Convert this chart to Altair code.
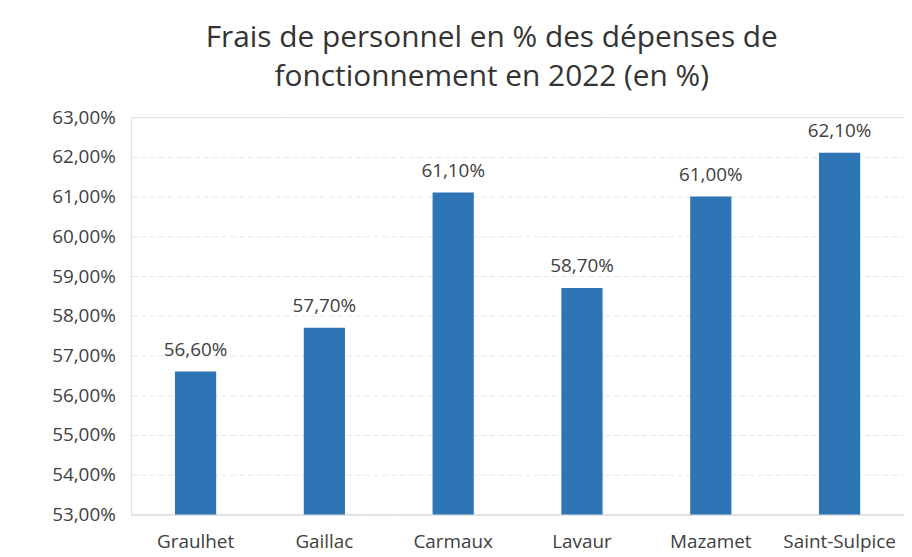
import altair as alt
import pandas as pd

communes = ["Graulhet", "Gaillac", "Carmaux", "Lavaur", "Mazamet", "Saint-Sulpice"]
valeurs = [56.6, 57.7, 61.1, 58.7, 61.0, 62.1]

df = pd.DataFrame({"commune": communes, "valeur": valeurs})
df["label"] = [f"{v:.2f}".replace(".", ",") + "%" for v in valeurs]

FONT = "Open Sans"

base = alt.Chart(df).encode(
    x=alt.X("commune:N", sort=communes, title=None,
            scale=alt.Scale(paddingInner=0.68, paddingOuter=0.34),
            axis=alt.Axis(labelAngle=0, labelFontSize=19, labelColor="#404040",
                          labelFont=FONT, ticks=False, domain=True,
                          domainColor="#d9d9d9", labelPadding=18)),
    y=alt.Y("valeur:Q", title=None,
            scale=alt.Scale(domain=[53, 63], nice=False, zero=False, clamp=True),
            axis=alt.Axis(values=list(range(53, 64)), labelFontSize=19,
                          labelColor="#404040", labelFont=FONT,
                          labelExpr="replace(format(datum.value, '.2f'), '.', ',') + '%'",
                          ticks=False, domain=False, gridColor="#e6e6e6",
                          gridDash=[6, 3], labelPadding=16)),
)

bars = base.mark_bar(color="#2e75b6")
text = base.mark_text(dy=-22, fontSize=19, font=FONT, color="#404040").encode(
    text="label:N")

chart = (bars + text).properties(
    width=778, height=400,
    title=alt.TitleParams(
        ["Frais de personnel en % des dépenses de", "fonctionnement en 2022 (en %)"],
        fontSize=30, font=FONT, fontWeight="normal", color="#333333",
        lineHeight=40, offset=16, anchor="middle", dx=-26),
    autosize=alt.AutoSizeParams(type="none"),
    padding={"left": 124, "top": 108, "right": 0, "bottom": 41},
).configure_view(stroke=None).configure(background="white")

chart.save("out.html", embed_options={"renderer": "svg", "actions": False})
